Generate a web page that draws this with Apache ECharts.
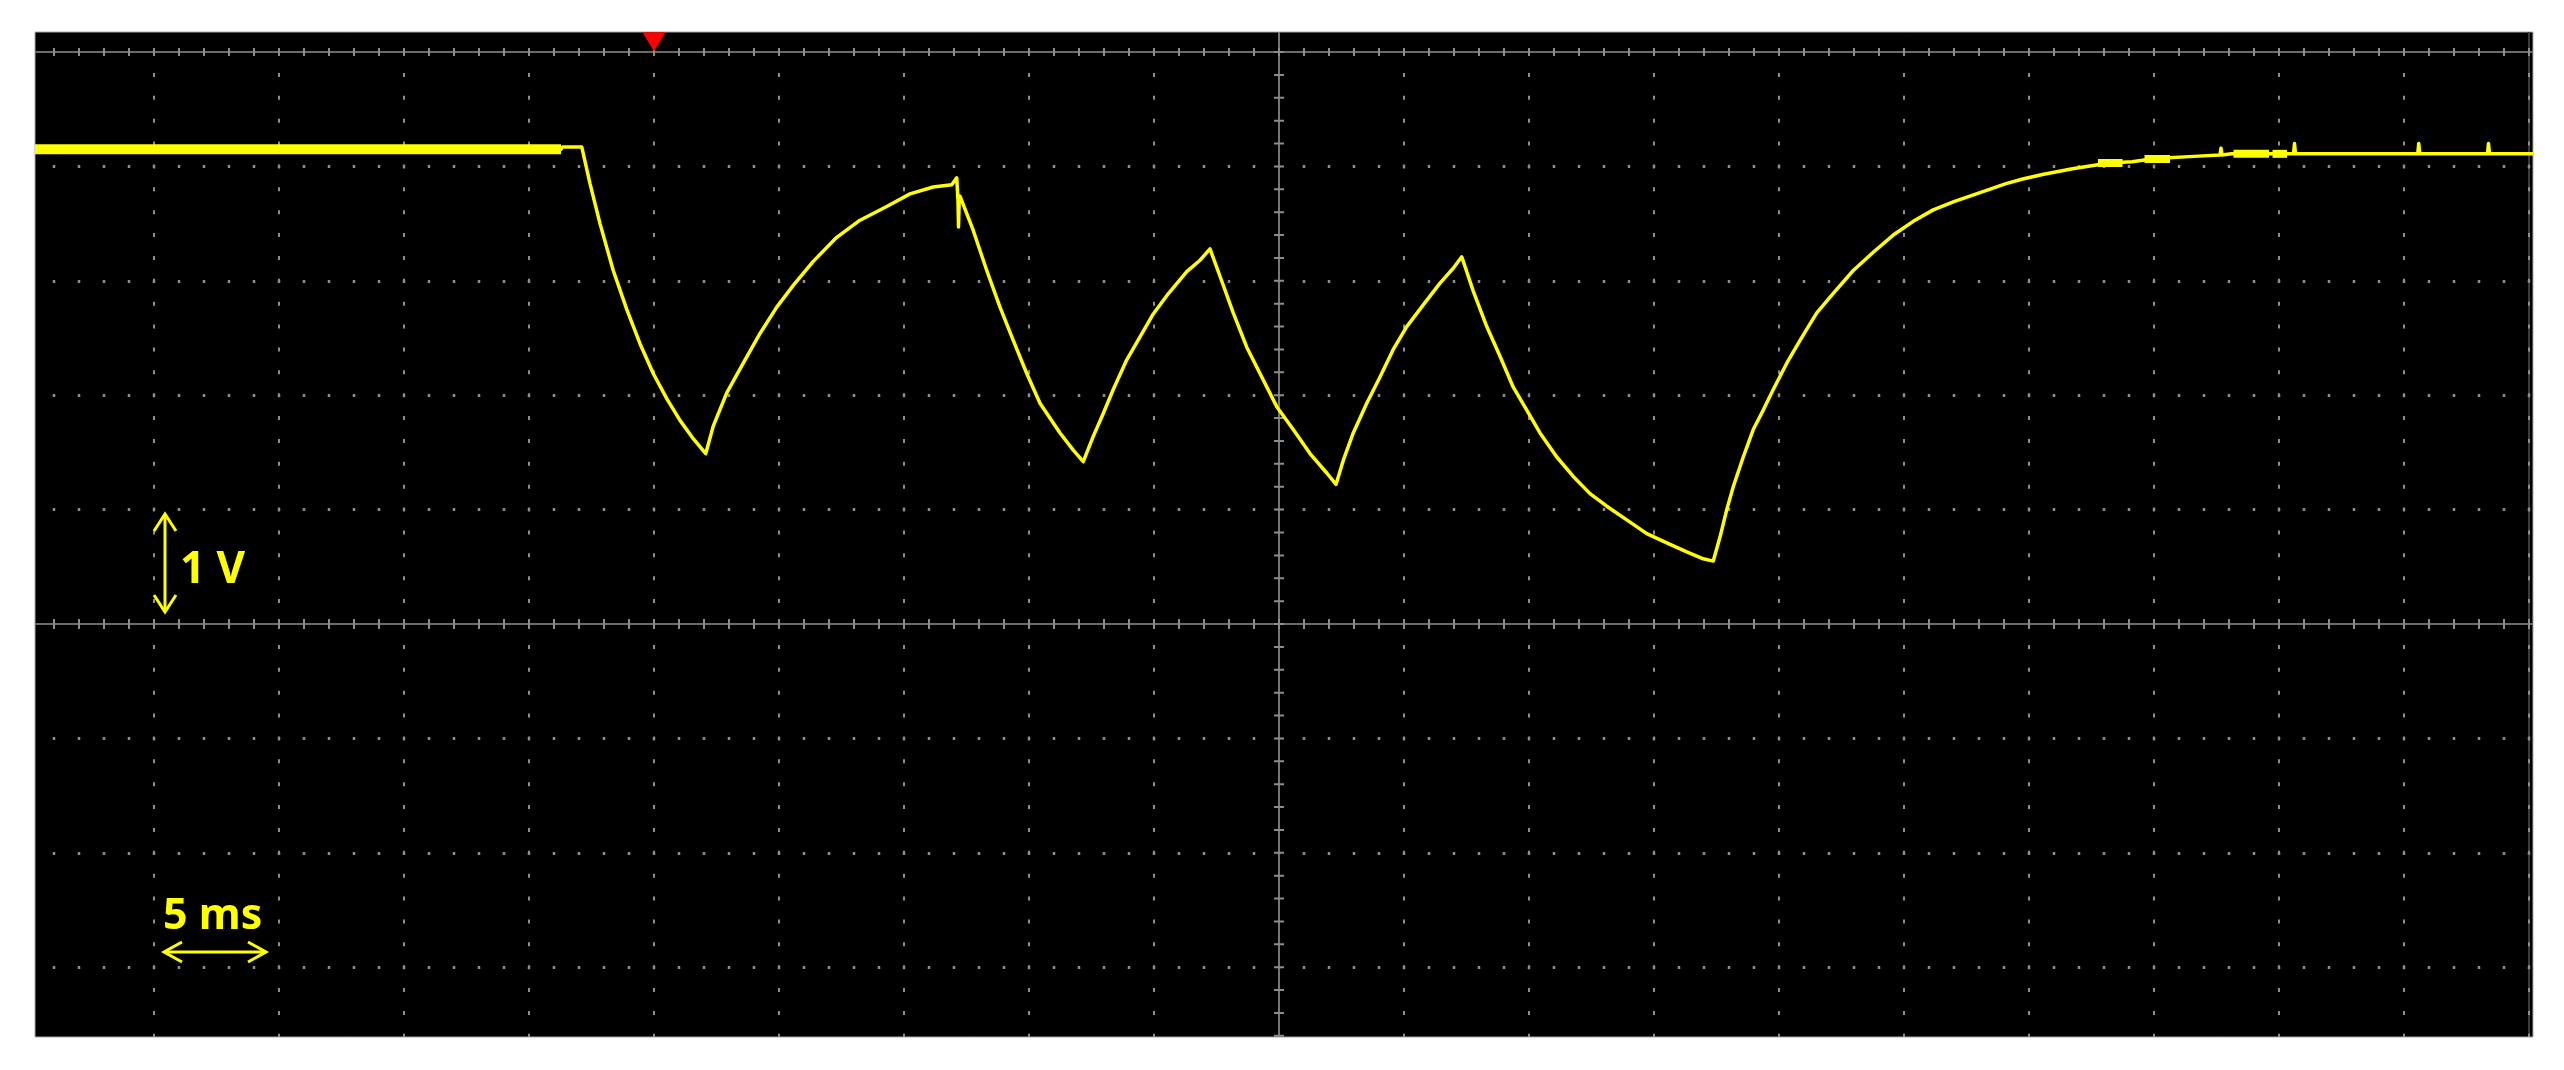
<!DOCTYPE html>
<html>
<head>
<meta charset="utf-8">
<script src="https://cdn.jsdelivr.net/npm/echarts@6/dist/echarts.min.js"></script>
<style>
html,body{margin:0;padding:0;background:#ffffff;}
#chart{width:2564px;height:1070px;}
</style>
</head>
<body>
<div id="chart"></div>
<script>
// ---- Data read from the oscilloscope capture (time in ms, voltage in V) ----
const timeMs = [
  -24.76, -3.72, -3.66, -2.89, -2.56, -2.16, -1.63, -1.09, -0.56, -0.03, 0.51, 1.04, 1.57, 2.07,
  2.37, 2.91, 3.57, 4.24, 4.91, 5.57, 6.37, 7.31, 8.24, 9.31, 10.24, 11.17, 11.91, 12.11,
  12.16, 12.18, 12.21, 12.24, 12.77, 13.31, 13.84, 14.37, 14.91, 15.44, 16.24, 16.77, 17.17,
  17.57, 17.97, 18.37, 18.91, 19.44, 19.97, 20.51, 21.31, 21.84, 22.24,
  22.64, 23.17, 23.71, 24.24, 24.91, 25.57, 26.24, 26.91, 27.28,
  27.57, 27.97, 28.51, 29.04, 29.57, 30.11, 30.77, 31.44, 31.97, 32.31,
  32.77, 33.31, 33.84, 34.37, 34.91, 35.44, 36.11, 36.77, 37.44, 38.11, 38.91, 39.71, 40.51, 41.31, 41.97, 42.37,
  42.64, 42.91, 43.17, 43.57, 43.97, 44.37, 44.77, 45.31, 45.84, 46.51, 47.17, 47.97, 48.77, 49.57, 50.37, 51.17, 51.97,
  52.49, 53.42, 54.08, 54.75, 55.54, 56.74, 58.20, 59.12, 60.05, 61.78,
  62.64, 62.68, 62.72, 63.10, 65.49, 65.58, 65.62, 65.66, 70.55, 70.59, 70.63, 73.34, 73.38, 73.42, 75.16
];
const volts = [
  4.15, 4.15, 4.17, 4.17, 3.85, 3.50, 3.09, 2.75, 2.45, 2.19, 1.97, 1.78, 1.62, 1.49,
  1.73, 2.02, 2.28, 2.54, 2.77, 2.96, 3.17, 3.38, 3.53, 3.65, 3.76, 3.82, 3.84, 3.90,
  3.70, 3.47, 3.72, 3.74, 3.44, 3.09, 2.77, 2.48, 2.19, 1.93, 1.67, 1.52, 1.42,
  1.64, 1.84, 2.05, 2.31, 2.51, 2.71, 2.87, 3.08, 3.18, 3.28,
  3.04, 2.72, 2.42, 2.19, 1.90, 1.70, 1.49, 1.32, 1.22,
  1.43, 1.67, 1.93, 2.16, 2.40, 2.60, 2.79, 2.98, 3.11, 3.21,
  2.91, 2.60, 2.34, 2.07, 1.87, 1.67, 1.46, 1.29, 1.14, 1.03, 0.91, 0.79, 0.71, 0.63, 0.57, 0.55,
  0.76, 1.00, 1.20, 1.46, 1.70, 1.87, 2.05, 2.28, 2.48, 2.72, 2.89, 3.09, 3.25, 3.40, 3.52, 3.62, 3.69,
  3.73, 3.80, 3.85, 3.89, 3.93, 3.98, 4.03, 4.04, 4.07, 4.09,
  4.10, 4.16, 4.10, 4.11, 4.11, 4.11, 4.20, 4.11, 4.11, 4.20, 4.11, 4.11, 4.20, 4.11, 4.11
];
// thick (noisy) portions of the trace
const bandStartMs = [-24.76, 57.76, 59.62, 63.18, 64.74];
const bandEndMs   = [-3.72, 58.74, 60.64, 64.60, 65.32];
const bandVolts   = [4.15, 4.03, 4.065, 4.11, 4.11];

// graticule (5 ms/div, 1 V/div)
const dottedTimeDivs = [-20, -15, -10, -5, 0, 5, 10, 15, 20, 30, 35, 40, 45, 50, 55, 60, 65, 70];
const centerTimeDiv = 25;
const edgeTimeDiv = 75;
const dottedVoltDivs = [-3, -2, -1, 1, 2, 3, 4];
const centerVoltDiv = 0;
const topVoltDiv = 5;
const triggerTimeMs = 0;
const scaleLabels = ['1 V', '5 ms'];

const xMin = -24.76, xMax = 75.16;
const yMin = -3.61, yMax = 5.175;

// ---- build options ----
const trace = timeMs.map((t, i) => [t, volts[i]]);
const YEL = '#ffff00';
const DOT = '#8e8e8e';

const gratLines = [];
dottedTimeDivs.forEach(t => gratLines.push({xAxis: t, lineStyle: {color: DOT, width: 2, type: [4, 18.88], dashOffset: 0.84}}));
dottedVoltDivs.forEach(v => gratLines.push({yAxis: v, lineStyle: {color: DOT, width: 3, type: [2.5, 22.5], dashOffset: 7.25}}));
// edge line
gratLines.push({xAxis: edgeTimeDiv, lineStyle: {color: '#3c3c3c', width: 2, type: 'solid'}});
gratLines.push({xAxis: edgeTimeDiv, lineStyle: {color: DOT, width: 2, type: [4, 18.88], dashOffset: 0.84}});
// solid center / top lines
gratLines.push({yAxis: centerVoltDiv, lineStyle: {color: '#6a6a6a', width: 2, type: 'solid'}});
gratLines.push({yAxis: topVoltDiv, lineStyle: {color: '#6a6a6a', width: 2, type: 'solid'}});
gratLines.push({xAxis: centerTimeDiv, lineStyle: {color: '#767676', width: 2, type: 'solid'}});
// tick marks crossing solid lines
gratLines.push({yAxis: centerVoltDiv, lineStyle: {color: '#8c8c8c', width: 10, type: [2, 23], dashOffset: 7}});
gratLines.push({yAxis: topVoltDiv, lineStyle: {color: '#8c8c8c', width: 8, type: [2, 23], dashOffset: 7}});
gratLines.push({xAxis: centerTimeDiv, lineStyle: {color: '#8c8c8c', width: 10, type: [2, 20.88], dashOffset: 22.74}});

const bandSeries = bandStartMs.map((s, i) => ({
  type: 'line',
  name: 'band' + i,
  data: [[s, bandVolts[i]], [bandEndMs[i], bandVolts[i]]],
  showSymbol: false,
  symbol: 'none',
  silent: true,
  z: 9,
  lineStyle: {color: YEL, width: i === 0 ? 10 : 8},
  itemStyle: {color: YEL}
}));

const option = {
  animation: false,
  backgroundColor: '#ffffff',
  grid: {
    left: 35, top: 32, width: 2498, height: 1005,
    show: true, backgroundColor: '#000000', borderColor: '#a8a8a8', borderWidth: 1
  },
  xAxis: {type: 'value', min: xMin, max: xMax, show: false},
  yAxis: {type: 'value', min: yMin, max: yMax, show: false},
  series: [
    {
      type: 'line',
      name: 'graticule',
      data: [],
      silent: true,
      markLine: {
        z: 2,
        silent: true,
        symbol: ['none', 'none'],
        label: {show: false},
        emphasis: {disabled: true},
        animation: false,
        data: gratLines
      }
    },
    ...bandSeries,
    {
      type: 'line',
      name: 'CH1',
      data: trace,
      showSymbol: false,
      symbol: 'none',
      z: 10,
      clip: true,
      lineStyle: {color: YEL, width: 3.5, join: 'round'},
      itemStyle: {color: YEL},
      markPoint: {
        silent: true,
        symbol: 'triangle',
        symbolSize: [23, 19],
        symbolRotate: 180,
        itemStyle: {color: '#ff0000'},
        label: {show: false},
        data: [{coord: [triggerTimeMs, yMax - 0.085]}]
      }
    }
  ],
  graphic: [
    {type: 'polyline', z: 100, shape: {points: [[165, 514], [165, 612]]}, style: {stroke: YEL, lineWidth: 3, fill: null}},
    {type: 'polyline', z: 100, shape: {points: [[154, 531], [165, 514], [176, 531]]}, style: {stroke: YEL, lineWidth: 3, fill: null}},
    {type: 'polyline', z: 100, shape: {points: [[154, 595], [165, 612], [176, 595]]}, style: {stroke: YEL, lineWidth: 3, fill: null}},
    {type: 'text', z: 100, style: {text: scaleLabels[0], x: 180, y: 570, fill: YEL, font: 'bold 44px "Noto Sans"', textAlign: 'left', textVerticalAlign: 'middle', align: 'left', verticalAlign: 'middle'}},
    {type: 'text', z: 100, style: {text: scaleLabels[1], x: 163, y: 917, fill: YEL, font: 'bold 43px "Noto Sans"', textAlign: 'left', textVerticalAlign: 'middle', align: 'left', verticalAlign: 'middle'}},
    {type: 'polyline', z: 100, shape: {points: [[164, 952], [266, 952]]}, style: {stroke: YEL, lineWidth: 3, fill: null}},
    {type: 'polyline', z: 100, shape: {points: [[182, 942], [164, 952], [182, 962]]}, style: {stroke: YEL, lineWidth: 3, fill: null}},
    {type: 'polyline', z: 100, shape: {points: [[248, 942], [266, 952], [248, 962]]}, style: {stroke: YEL, lineWidth: 3, fill: null}}
  ]
};

const chart = echarts.init(document.getElementById('chart'), null, {renderer: 'canvas'});
chart.setOption(option);
</script>
</body>
</html>
